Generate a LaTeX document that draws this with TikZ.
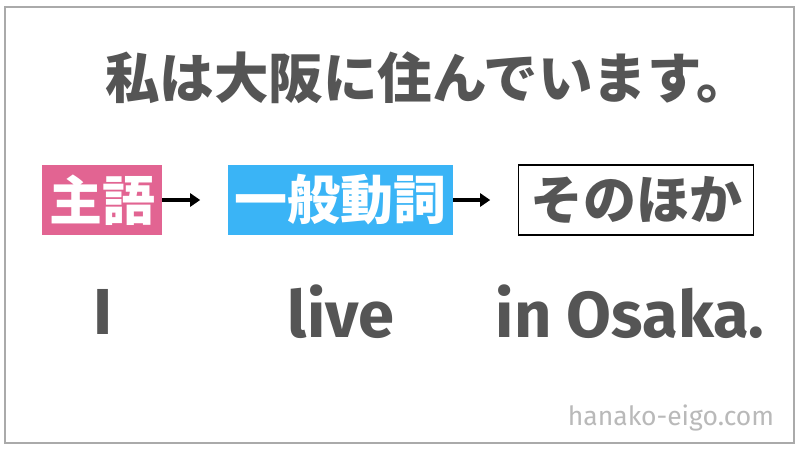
\documentclass[tikz,border=0pt]{standalone}
\usepackage{fontspec}
\newfontfamily\jp{Noto Sans CJK JP}
\newfontfamily\en{Fira Sans}
\usetikzlibrary{arrows.meta}
\definecolor{txt}{RGB}{85,85,85}
\definecolor{pinkbox}{RGB}{226,100,146}
\definecolor{bluebox}{RGB}{58,180,246}
\definecolor{frame}{RGB}{170,170,170}
\definecolor{mark}{RGB}{185,185,185}
\tikzset{
  box/.style={minimum height=70pt, inner sep=0pt, font=\jp\bfseries\fontsize{53}{53}\selectfont},
  word/.style={font=\en\bfseries\fontsize{65}{65}\selectfont, text=txt, inner sep=0pt},
  conn/.style={-{Triangle[length=10pt,width=13pt]}, line width=3.5pt, black}
}
\begin{document}
\begin{tikzpicture}[x=1pt,y=-1pt]
\useasboundingbox (0,0) rectangle (800,450);
\fill[white] (0,0) rectangle (800,450);
\draw[frame, line width=2.5pt] (5,7) rectangle (794,443);
\node[font=\jp\bfseries\fontsize{54.5}{54.5}\selectfont, text=txt, inner sep=0pt] (title) at (428,78) {私は大阪に住んでいます。};
\node[box, fill=pinkbox, text=white, minimum width=120pt] (subj) at (102,200) {主語};
\node[box, fill=bluebox, text=white, minimum width=225pt] (verb) at (340.5,200) {一般動詞};
\node[box, draw=black, line width=1.5pt, text=txt, minimum width=235pt] (other) at (636,200) {そのほか};
\draw[conn] (subj.east) -- ++(38,0) coordinate (a1);
\draw[conn] (verb.east) -- ++(37,0) coordinate (a2);
\node[word] (i) at (103,312) {I};
\node[word] (live) at (341,312) {live};
\node[word] (osaka) at (630,312) {in Osaka.};
\node[font=\en\fontsize{26.5}{26.5}\selectfont, text=mark, inner sep=0pt] (site) at (671,418) {hanako-eigo.com};
\end{tikzpicture}
\end{document}
